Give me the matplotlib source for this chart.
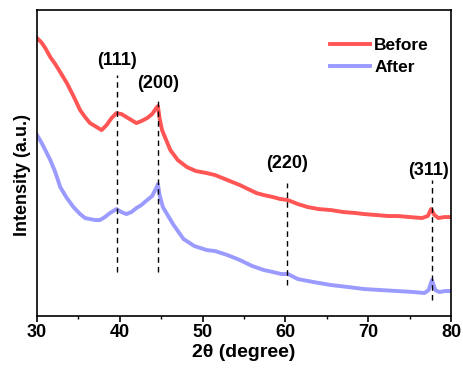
import numpy as np
import matplotlib
matplotlib.use("Agg")
import matplotlib.pyplot as plt
from matplotlib.ticker import MultipleLocator

plt.rcParams['font.family'] = ['Liberation Sans', 'DejaVu Sans']
plt.rcParams['font.weight'] = 'bold'

# XRD patterns (intensity in arbitrary units)
two_theta_before = [30.0, 30.5, 31.0, 31.6, 32.2, 32.8, 33.6, 34.4, 35.2, 35.8, 36.4, 37.0, 37.8,
                    38.4, 39.0, 39.6, 40.2, 40.8, 41.4, 42.0, 42.6, 43.3, 43.9, 44.4, 44.6, 44.8,
                    45.1, 45.6, 46.1, 47.0, 48.1, 49.2, 50.5, 51.5, 52.4, 53.3, 54.5, 55.5, 56.5,
                    57.4, 58.5, 59.4, 60.3, 61.5, 62.7, 64.0, 65.5, 67.0, 68.5, 69.5, 71.0, 72.5,
                    73.6, 75.0, 76.5, 77.2, 77.6, 78.0, 78.5, 79.2, 80.0]
before_px = [38, 42, 48, 57, 64, 72, 83, 96, 110, 117, 123, 126, 130,
             125, 118, 113, 114, 117, 120, 123, 121, 118, 114, 108, 106, 118,
             130, 140, 150, 160, 167, 171, 173, 175, 178, 181, 185, 189, 193,
             195, 197, 199, 200, 204, 207, 209, 210, 212, 213, 214, 215, 216,
             216, 217, 218, 216, 209, 215, 218, 217, 217]

two_theta_after = [30.0, 30.5, 31.0, 31.6, 32.2, 32.8, 33.6, 34.4, 35.2, 35.8, 36.4, 37.0, 37.6,
                   38.2, 38.8, 39.6, 40.2, 40.8, 41.4, 42.0, 42.6, 43.3, 43.9, 44.4, 44.6, 44.8,
                   45.2, 45.7, 46.5, 47.7, 49.0, 50.5, 51.5, 53.0, 54.5, 56.0, 57.4, 58.5, 59.5,
                   60.3, 61.5, 63.4, 65.5, 67.6, 69.5, 71.5, 73.5, 75.5, 76.8, 77.3, 77.7, 78.1,
                   78.6, 79.3, 80.0]
after_px = [135, 142, 150, 160, 172, 187, 198, 207, 214, 218, 219, 220, 220,
            217, 213, 209, 212, 214, 212, 208, 205, 200, 196, 188, 184, 195,
            207, 214, 225, 239, 246, 250, 251, 255, 260, 266, 270, 272, 274,
            274, 279, 282, 285, 287, 289, 290, 291, 292, 293, 290, 280, 290,
            292, 291, 291]

intensity_before = [316 - v for v in before_px]
intensity_after = [316 - v for v in after_px]

peak_labels = ['(111)', '(200)', '(220)', '(311)']
peak_pos = [39.6, 44.6, 60.2, 77.7]
line_top = [241, 219, 133, 136]
line_bottom = [44, 44, 31, 16]
label_y = [256, 233, 153, 146]

fig = plt.figure(figsize=(4.63, 3.74), dpi=100)
ax = fig.add_axes([0.080, 0.155, 0.894, 0.818])

ax.plot(two_theta_before, intensity_before, color='#ff5555', lw=2.8, label='Before')
ax.plot(two_theta_after, intensity_after, color='#9a9aff', lw=2.8, label='After')

for pos, lab, top, bot, ly in zip(peak_pos, peak_labels, line_top, line_bottom, label_y):
    ax.plot([pos, pos], [bot, top], color='black', lw=1.0, ls=(0, (4, 3)))
    ax.text(pos - 0.4 if lab == '(311)' else pos, ly, lab, ha='center', va='center',
            fontsize=13, fontweight='bold')

ax.set_xlim(30, 80)
ax.set_ylim(0, 306)
ax.set_yticks([])
ax.xaxis.set_major_locator(MultipleLocator(10))
ax.xaxis.set_minor_locator(MultipleLocator(5))
ax.tick_params(axis='x', which='major', direction='out', length=4, width=1.2,
               labelsize=13, pad=2)
ax.tick_params(axis='x', which='minor', direction='out', length=2.5, width=1.0)
for lbl in ax.get_xticklabels():
    lbl.set_fontweight('bold')
for sp in ax.spines.values():
    sp.set_linewidth(1.2)

ax.set_xlabel('2θ (degree)', fontsize=14, fontweight='bold', labelpad=2)
ax.set_ylabel('Intensity (a.u.)', fontsize=13, fontweight='bold')
ax.yaxis.set_label_coords(-0.014, 0.46)

ax.legend(loc='upper left', bbox_to_anchor=(0.708, 0.908), frameon=False, fontsize=12.5,
          handlelength=2.3, handletextpad=0.25, labelspacing=0.35, borderpad=0,
          borderaxespad=0)

fig.savefig('out.png', dpi=100)
